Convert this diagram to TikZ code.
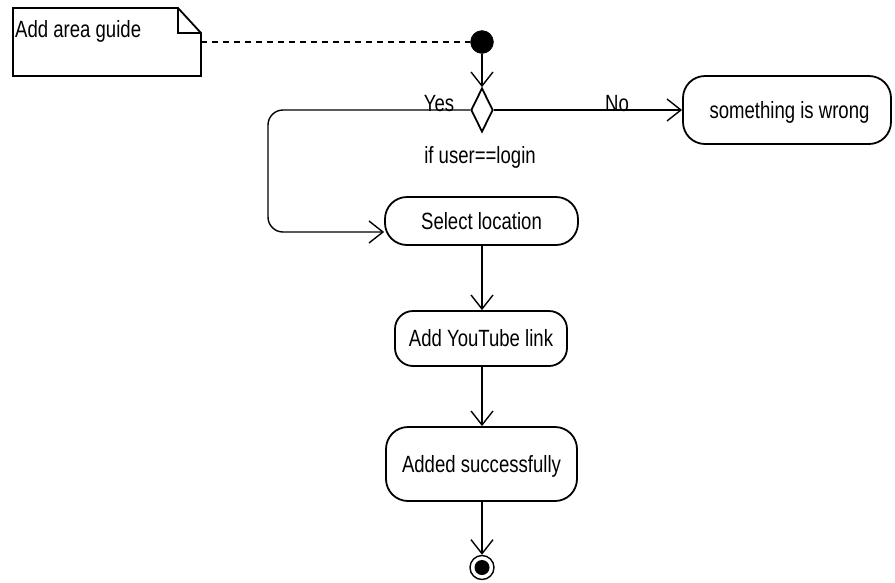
\documentclass[tikz,border=0pt]{standalone}
\usepackage{fontspec}
\setmainfont[FakeStretch=0.79]{Liberation Sans}
\usetikzlibrary{arrows.meta,shapes.geometric}
\begin{document}
\begin{tikzpicture}[x=1pt,y=-1pt,
  font=\fontsize{23.5}{26}\selectfont,
  act/.style={draw, line width=1.8pt, inner sep=0pt, align=center, text height=18pt, text depth=2pt},
  flow/.style={draw, line width=1.4pt, -{Straight Barb[length=14pt,width=22pt,line width=1.4pt]}},
  lbl/.style={inner sep=0pt}]
\useasboundingbox (0,0) rectangle (895,582);
% note
\draw[line width=1.8pt] (13,8) -- (178,8) -- (201,33) -- (201,76) -- (13,76) -- cycle;
\draw[line width=1.8pt] (178,8) -- (178,33) -- (201,33);
\node[lbl, anchor=base west] (note) at (15,37) {Add area guide};
\coordinate (noteanchor) at (201,42);
% initial
\node[circle, fill=black, draw, minimum size=23pt, inner sep=0pt] (init) at (482,42) {};
\draw[line width=1.4pt, dash pattern=on 6pt off 5pt] (noteanchor) -- (init.west);
% decision
\node[diamond, draw, line width=1.8pt, minimum width=22pt, minimum height=44pt, inner sep=0pt] (dec) at (482,110) {};
\draw[flow] (init.south) -- (dec.north);
% actions
\node[act, minimum width=193pt, minimum height=48pt, rounded corners=22pt] (sel) at (481.5,221) {Select location};
\node[act, minimum width=172pt, minimum height=55pt, rounded corners=18pt] (yt) at (481,338.5) {Add YouTube link};
\node[act, minimum width=191pt, minimum height=74pt, rounded corners=22pt] (ok) at (481.5,464) {Added successfully};
\node[act, minimum width=208pt, minimum height=68pt, rounded corners=22pt] (wrong) at (787,110) {\hspace*{5pt}something is wrong};
% final
\node[circle, draw, line width=1.4pt, minimum size=24pt, inner sep=0pt] (fin) at (482,567.5) {};
\node[circle, fill=black, minimum size=15pt, inner sep=0pt] (finin) at (fin.center) {};
% connectors
\draw[flow, rounded corners=15pt] (dec.west) -- (268,110) -- (268,232) -- (sel.west |- 0,232);
\draw[flow] (dec.east) -- (wrong.west);
\draw[flow] (sel.south -| 482,0) -- (yt.north -| 482,0);
\draw[flow] (yt.south -| 482,0) -- (ok.north -| 482,0);
\draw[flow] (ok.south -| 482,0) -- (fin.north);
% labels
\node[lbl, anchor=base] (yes) at (439,111) {Yes};
\node[lbl, anchor=base] (no) at (617,111) {No};
\node[lbl, anchor=base] (cond) at (480,163) {if user==login};
\end{tikzpicture}
\end{document}
